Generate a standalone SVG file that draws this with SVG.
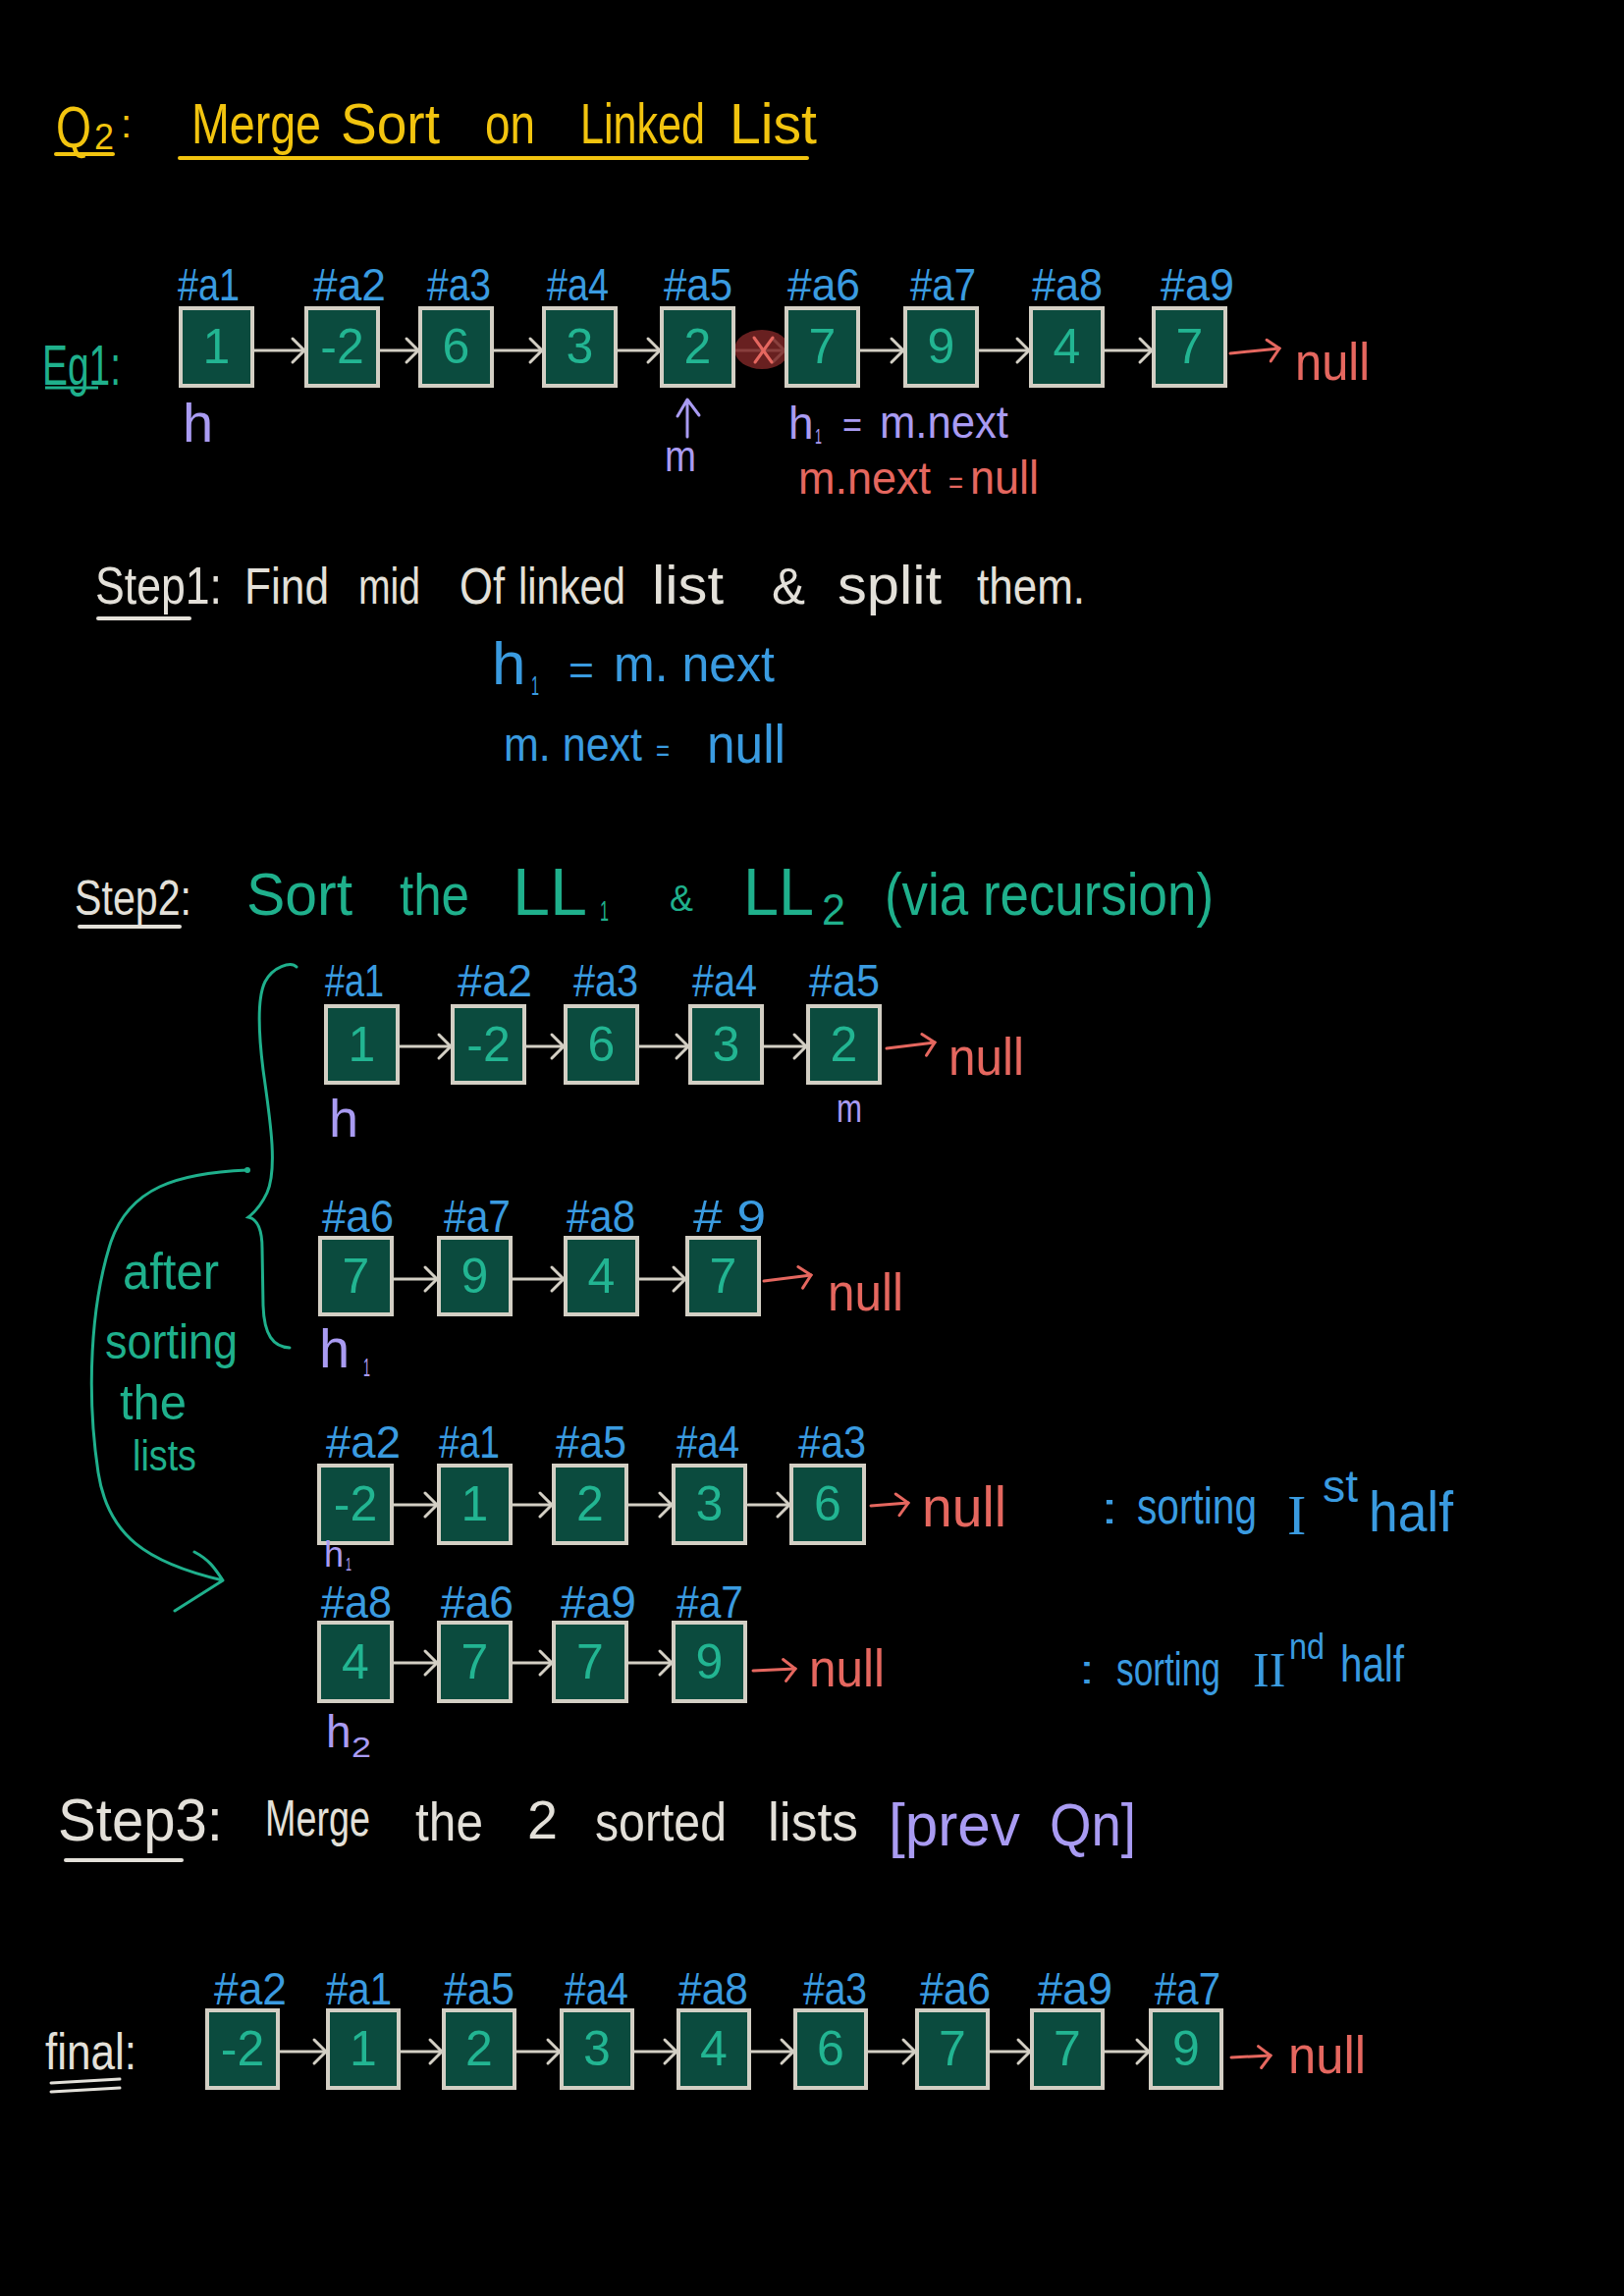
<svg xmlns="http://www.w3.org/2000/svg" width="1654" height="2339" viewBox="0 0 1654 2339">
<defs>
<style>
text{font-family:"Liberation Sans Narrow","Liberation Sans","DejaVu Sans",sans-serif;}
.serif{font-family:"Liberation Serif","DejaVu Serif",serif;}
.box{fill:#0b4b3e;stroke:#d3cfc4;stroke-width:4;}
.val{font-size:50px;fill:#22b592;text-anchor:middle;}
.lbl{font-size:46px;fill:#3a9be0;}
.ptr{fill:#a99bf2;}
.red{fill:#e5675f;}
.wht{fill:#e3e0d9;}
.teal{fill:#1fb08c;}
.yel{fill:#f2c40f;}
.blu{fill:#3a9be0;}
.ln{stroke:#d3cfc4;stroke-width:3;fill:none;stroke-linecap:round;marker-end:url(#ag);}
.lnr{stroke:#e5675f;stroke-width:3;fill:none;stroke-linecap:round;marker-end:url(#ar);}
.ul{stroke-width:4;stroke-linecap:round;fill:none;}
</style>
<marker id="ag" markerUnits="userSpaceOnUse" markerWidth="20" markerHeight="30" refX="15" refY="13" orient="auto" overflow="visible">
<path d="M3,1 Q9,7 15,13 Q9,19 3,25" fill="none" stroke="#d3cfc4" stroke-width="3" stroke-linecap="round"/>
</marker>
<marker id="ar" markerUnits="userSpaceOnUse" markerWidth="20" markerHeight="30" refX="15" refY="10" orient="auto" overflow="visible">
<path d="M3,0 L15,10 L5,22" fill="none" stroke="#e5675f" stroke-width="3" stroke-linecap="round"/>
</marker>
</defs>
<rect x="0" y="0" width="1654" height="2339" fill="#000"/>

<!-- Title -->
<g id="title">
<text class="yel" x="57" y="150" font-size="60" textLength="36" lengthAdjust="spacingAndGlyphs">Q</text>
<text class="yel" x="96" y="152" font-size="36" textLength="20" lengthAdjust="spacingAndGlyphs">2</text>
<text class="yel" x="123" y="140" font-size="40">:</text>
<line x1="57" y1="157" x2="115" y2="157" stroke="#f2c40f" class="ul"/>
<text class="yel" x="195" y="146" font-size="58" textLength="132" lengthAdjust="spacingAndGlyphs">Merge</text>
<text class="yel" x="347" y="146" font-size="58" textLength="101" lengthAdjust="spacingAndGlyphs">Sort</text>
<text class="yel" x="494" y="146" font-size="58" textLength="51" lengthAdjust="spacingAndGlyphs">on</text>
<text class="yel" x="591" y="146" font-size="58" textLength="127" lengthAdjust="spacingAndGlyphs">Linked</text>
<text class="yel" x="743" y="146" font-size="58" textLength="89" lengthAdjust="spacingAndGlyphs">List</text>
<line x1="183" y1="161" x2="822" y2="161" stroke="#f2c40f" class="ul"/>
</g>

<!-- Eg1 row -->
<g id="eg1-label">
<text class="teal" x="43" y="392" font-size="58" textLength="80" lengthAdjust="spacingAndGlyphs">Eg1:</text>
<line x1="46" y1="395" x2="100" y2="395" stroke="#1fb08c" stroke-width="3"/>
</g>

<g id="connectors-eg1">
<line class="ln" x1="259" y1="357" x2="310" y2="357"/>
<line class="ln" x1="387" y1="357" x2="426" y2="357"/>
<line class="ln" x1="503" y1="357" x2="552" y2="357"/>
<line class="ln" x1="629" y1="357" x2="672" y2="357"/>
<line class="ln" x1="749" y1="357" x2="799" y2="357"/>
<line class="ln" x1="876" y1="357" x2="920" y2="357"/>
<line class="ln" x1="997" y1="357" x2="1048" y2="357"/>
<line class="ln" x1="1125" y1="357" x2="1173" y2="357"/>
<line class="lnr" x1="1253" y1="360" x2="1303" y2="355"/>
</g>
<g id="cut-mark">
<ellipse cx="776" cy="356" rx="28" ry="20" fill="#7a2626" opacity="0.85"/>
<line x1="768" y1="344" x2="786" y2="369" stroke="#e5675f" stroke-width="3" stroke-linecap="round"/>
<line x1="787" y1="344" x2="769" y2="369" stroke="#e5675f" stroke-width="3" stroke-linecap="round"/>
</g>

<g id="e1"><rect class="box" x="184" y="314" width="73" height="79"/><text class="val" x="220.5" y="370">1</text><text class="lbl" x="181" y="306" textLength="63" lengthAdjust="spacingAndGlyphs">#a1</text></g>
<g id="e2"><rect class="box" x="312" y="314" width="73" height="79"/><text class="val" x="348.5" y="370">-2</text><text class="lbl" x="319" y="306" textLength="74" lengthAdjust="spacingAndGlyphs">#a2</text></g>
<g id="e3"><rect class="box" x="428" y="314" width="73" height="79"/><text class="val" x="464.5" y="370">6</text><text class="lbl" x="435" y="306" textLength="65" lengthAdjust="spacingAndGlyphs">#a3</text></g>
<g id="e4"><rect class="box" x="554" y="314" width="73" height="79"/><text class="val" x="590.5" y="370">3</text><text class="lbl" x="557" y="306" textLength="63" lengthAdjust="spacingAndGlyphs">#a4</text></g>
<g id="e5"><rect class="box" x="674" y="314" width="73" height="79"/><text class="val" x="710.5" y="370">2</text><text class="lbl" x="676" y="306" textLength="70" lengthAdjust="spacingAndGlyphs">#a5</text></g>
<g id="e6"><rect class="box" x="801" y="314" width="73" height="79"/><text class="val" x="837.5" y="370">7</text><text class="lbl" x="802" y="306" textLength="74" lengthAdjust="spacingAndGlyphs">#a6</text></g>
<g id="e7"><rect class="box" x="922" y="314" width="73" height="79"/><text class="val" x="958.5" y="370">9</text><text class="lbl" x="927" y="306" textLength="67" lengthAdjust="spacingAndGlyphs">#a7</text></g>
<g id="e8"><rect class="box" x="1050" y="314" width="73" height="79"/><text class="val" x="1086.5" y="370">4</text><text class="lbl" x="1051" y="306" textLength="72" lengthAdjust="spacingAndGlyphs">#a8</text></g>
<g id="e9"><rect class="box" x="1175" y="314" width="73" height="79"/><text class="val" x="1211.5" y="370">7</text><text class="lbl" x="1182" y="306" textLength="75" lengthAdjust="spacingAndGlyphs">#a9</text></g>
<g id="e-null"><text class="red" x="1319" y="387" font-size="54" textLength="76" lengthAdjust="spacingAndGlyphs">null</text></g>

<g id="e-pointers">
<text class="ptr" x="186" y="450" font-size="56">h</text>
<path d="M700 445 L700 409 M690 424 L700 407 L712 423" fill="none" stroke="#a99bf2" stroke-width="3" stroke-linecap="round" stroke-linejoin="round"/>
<text class="ptr" x="677" y="480" font-size="44" textLength="32" lengthAdjust="spacingAndGlyphs">m</text>
<text class="ptr" x="803" y="447" font-size="46">h</text>
<text class="ptr" x="830" y="452" font-size="22" textLength="7" lengthAdjust="spacingAndGlyphs">1</text>
<text class="ptr" x="858" y="445" font-size="36" textLength="20" lengthAdjust="spacingAndGlyphs">=</text>
<text class="ptr" x="896" y="446" font-size="46" textLength="131" lengthAdjust="spacingAndGlyphs">m.next</text>
<text class="red" x="813" y="503" font-size="46" textLength="135" lengthAdjust="spacingAndGlyphs">m.next</text>
<text class="red" x="966" y="502" font-size="32" textLength="15" lengthAdjust="spacingAndGlyphs">=</text>
<text class="red" x="988" y="503" font-size="48" textLength="70" lengthAdjust="spacingAndGlyphs">null</text>
</g>

<!-- Step 1 -->
<g id="step1">
<text class="wht" x="97" y="615" font-size="54" textLength="129" lengthAdjust="spacingAndGlyphs">Step1:</text>
<line x1="100" y1="630" x2="193" y2="630" stroke="#e3e0d9" class="ul"/>
<text class="wht" x="249" y="615" font-size="52" textLength="86" lengthAdjust="spacingAndGlyphs">Find</text>
<text class="wht" x="365" y="615" font-size="52" textLength="63" lengthAdjust="spacingAndGlyphs">mid</text>
<text class="wht" x="468" y="615" font-size="52" textLength="46" lengthAdjust="spacingAndGlyphs">Of</text>
<text class="wht" x="528" y="615" font-size="52" textLength="109" lengthAdjust="spacingAndGlyphs">linked</text>
<text class="wht" x="664" y="615" font-size="56" textLength="73" lengthAdjust="spacingAndGlyphs">list</text>
<text class="wht" x="786" y="615" font-size="52" textLength="34" lengthAdjust="spacingAndGlyphs">&amp;</text>
<text class="wht" x="853" y="615" font-size="56" textLength="106" lengthAdjust="spacingAndGlyphs">split</text>
<text class="wht" x="995" y="615" font-size="52" textLength="110" lengthAdjust="spacingAndGlyphs">them.</text>
<text class="blu" x="501" y="697" font-size="62">h</text>
<text class="blu" x="541" y="708" font-size="28" textLength="8" lengthAdjust="spacingAndGlyphs">1</text>
<text class="blu" x="579" y="697" font-size="42" textLength="26" lengthAdjust="spacingAndGlyphs">=</text>
<text class="blu" x="625" y="694" font-size="52" textLength="164" lengthAdjust="spacingAndGlyphs">m. next</text>
<text class="blu" x="513" y="775" font-size="48" textLength="141" lengthAdjust="spacingAndGlyphs">m. next</text>
<text class="blu" x="668" y="775" font-size="32" textLength="14" lengthAdjust="spacingAndGlyphs">=</text>
<text class="blu" x="720" y="777" font-size="56" textLength="80" lengthAdjust="spacingAndGlyphs">null</text>
</g>

<!-- Step 2 -->
<g id="step2">
<text class="wht" x="76" y="932" font-size="50" textLength="119" lengthAdjust="spacingAndGlyphs">Step2:</text>
<line x1="81" y1="944" x2="183" y2="944" stroke="#e3e0d9" class="ul"/>
<text class="teal" x="251" y="932" font-size="62" textLength="108" lengthAdjust="spacingAndGlyphs">Sort</text>
<text class="teal" x="407" y="932" font-size="60" textLength="71" lengthAdjust="spacingAndGlyphs">the</text>
<text class="teal" x="522" y="932" font-size="68" textLength="76" lengthAdjust="spacingAndGlyphs">LL</text>
<text class="teal" x="611" y="938" font-size="30" textLength="9" lengthAdjust="spacingAndGlyphs">1</text>
<text class="teal" x="682" y="928" font-size="36" textLength="24" lengthAdjust="spacingAndGlyphs">&amp;</text>
<text class="teal" x="757" y="932" font-size="68" textLength="72" lengthAdjust="spacingAndGlyphs">LL</text>
<text class="teal" x="837" y="942" font-size="44" textLength="24" lengthAdjust="spacingAndGlyphs">2</text>
<text class="teal" x="901" y="932" font-size="62" textLength="335" lengthAdjust="spacingAndGlyphs">(via recursion)</text>
</g>

<g id="brace">
<path d="M302 985 C296 979 278 985 270 1000 C262 1016 263 1050 268 1090 C275 1140 283 1190 272 1215 C266 1228 258 1236 253 1240 C262 1242 267 1252 267 1272 L268 1330 C269 1360 278 1372 295 1373" fill="none" stroke="#1fb08c" stroke-width="3" stroke-linecap="round"/>
</g>
<g id="after-sorting">
<circle cx="252" cy="1192" r="3" fill="#1fb08c"/>
<path d="M252 1192 C180 1195 132 1210 113 1265 C92 1330 88 1420 100 1500 C110 1565 150 1592 227 1610 M198 1581 C215 1590 220 1600 227 1610 L178 1641" fill="none" stroke="#1fb08c" stroke-width="3" stroke-linecap="round" stroke-linejoin="round"/>
<text class="teal" x="125" y="1313" font-size="52" textLength="98" lengthAdjust="spacingAndGlyphs">after</text>
<text class="teal" x="107" y="1384" font-size="50" textLength="135" lengthAdjust="spacingAndGlyphs">sorting</text>
<text class="teal" x="122" y="1446" font-size="50" textLength="68" lengthAdjust="spacingAndGlyphs">the</text>
<text class="teal" x="135" y="1498" font-size="44" textLength="65" lengthAdjust="spacingAndGlyphs">lists</text>
</g>

<!-- connectors for step 2 lists -->
<g id="connectors">
<line class="ln" x1="407" y1="1066" x2="459" y2="1066"/>
<line class="ln" x1="536" y1="1066" x2="574" y2="1066"/>
<line class="ln" x1="651" y1="1066" x2="701" y2="1066"/>
<line class="ln" x1="777" y1="1066" x2="821" y2="1066"/>
<line class="lnr" x1="903" y1="1068" x2="952" y2="1062"/>

<line class="ln" x1="401" y1="1303" x2="445" y2="1303"/>
<line class="ln" x1="522" y1="1303" x2="574" y2="1303"/>
<line class="ln" x1="651" y1="1303" x2="698" y2="1303"/>
<line class="lnr" x1="778" y1="1305" x2="826" y2="1299"/>

<line class="ln" x1="401" y1="1533" x2="445" y2="1533"/>
<line class="ln" x1="522" y1="1533" x2="562" y2="1533"/>
<line class="ln" x1="640" y1="1533" x2="684" y2="1533"/>
<line class="ln" x1="762" y1="1533" x2="804" y2="1533"/>
<line class="lnr" x1="887" y1="1534" x2="925" y2="1531"/>

<line class="ln" x1="401" y1="1694" x2="445" y2="1694"/>
<line class="ln" x1="522" y1="1694" x2="562" y2="1694"/>
<line class="ln" x1="640" y1="1694" x2="684" y2="1694"/>
<line class="lnr" x1="767" y1="1702" x2="810" y2="1700"/>

<line class="ln" x1="285" y1="2090" x2="332" y2="2090"/>
<line class="ln" x1="407" y1="2090" x2="450" y2="2090"/>
<line class="ln" x1="525" y1="2090" x2="570" y2="2090"/>
<line class="ln" x1="646" y1="2090" x2="689" y2="2090"/>
<line class="ln" x1="765" y1="2090" x2="808" y2="2090"/>
<line class="ln" x1="884" y1="2090" x2="932" y2="2090"/>
<line class="ln" x1="1008" y1="2090" x2="1049" y2="2090"/>
<line class="ln" x1="1125" y1="2090" x2="1170" y2="2090"/>
<line class="lnr" x1="1254" y1="2096" x2="1294" y2="2094"/>
</g>

<!-- List A -->
<g id="a1"><rect class="box" x="332" y="1025" width="73" height="78"/><text class="val" x="368.5" y="1081">1</text><text class="lbl" x="331" y="1015" textLength="60" lengthAdjust="spacingAndGlyphs">#a1</text></g>
<g id="a2"><rect class="box" x="461" y="1025" width="73" height="78"/><text class="val" x="497.5" y="1081">-2</text><text class="lbl" x="466" y="1015" textLength="76" lengthAdjust="spacingAndGlyphs">#a2</text></g>
<g id="a3"><rect class="box" x="576" y="1025" width="73" height="78"/><text class="val" x="612.5" y="1081">6</text><text class="lbl" x="584" y="1015" textLength="66" lengthAdjust="spacingAndGlyphs">#a3</text></g>
<g id="a4"><rect class="box" x="703" y="1025" width="73" height="78"/><text class="val" x="739.5" y="1081">3</text><text class="lbl" x="705" y="1015" textLength="66" lengthAdjust="spacingAndGlyphs">#a4</text></g>
<g id="a5"><rect class="box" x="823" y="1025" width="73" height="78"/><text class="val" x="859.5" y="1081">2</text><text class="lbl" x="824" y="1015" textLength="72" lengthAdjust="spacingAndGlyphs">#a5</text></g>
<g id="a-null"><text class="red" x="966" y="1095" font-size="54" textLength="77" lengthAdjust="spacingAndGlyphs">null</text></g>
<g id="a-ptrs">
<text class="ptr" x="335" y="1158" font-size="54">h</text>
<text class="ptr" x="852" y="1143" font-size="40" textLength="26" lengthAdjust="spacingAndGlyphs">m</text>
</g>

<!-- List B -->
<g id="b1"><rect class="box" x="326" y="1261" width="73" height="78"/><text class="val" x="362.5" y="1317">7</text><text class="lbl" x="328" y="1255" textLength="73" lengthAdjust="spacingAndGlyphs">#a6</text></g>
<g id="b2"><rect class="box" x="447" y="1261" width="73" height="78"/><text class="val" x="483.5" y="1317">9</text><text class="lbl" x="452" y="1255" textLength="68" lengthAdjust="spacingAndGlyphs">#a7</text></g>
<g id="b3"><rect class="box" x="576" y="1261" width="73" height="78"/><text class="val" x="612.5" y="1317">4</text><text class="lbl" x="577" y="1255" textLength="70" lengthAdjust="spacingAndGlyphs">#a8</text></g>
<g id="b4"><rect class="box" x="700" y="1261" width="73" height="78"/><text class="val" x="736.5" y="1317">7</text><text class="lbl" x="706" y="1255" textLength="74" lengthAdjust="spacingAndGlyphs"># 9</text></g>
<g id="b-null"><text class="red" x="843" y="1335" font-size="54" textLength="77" lengthAdjust="spacingAndGlyphs">null</text></g>
<g id="b-ptrs">
<text class="ptr" x="325" y="1393" font-size="56">h</text>
<text class="ptr" x="370" y="1402" font-size="26" textLength="7" lengthAdjust="spacingAndGlyphs">1</text>
</g>

<!-- List C (sorted first half) -->
<g id="c1"><rect class="box" x="325" y="1493" width="74" height="79"/><text class="val" x="362" y="1549">-2</text><text class="lbl" x="332" y="1485" textLength="76" lengthAdjust="spacingAndGlyphs">#a2</text></g>
<g id="c2"><rect class="box" x="447" y="1493" width="73" height="79"/><text class="val" x="483.5" y="1549">1</text><text class="lbl" x="447" y="1485" textLength="62" lengthAdjust="spacingAndGlyphs">#a1</text></g>
<g id="c3"><rect class="box" x="564" y="1493" width="74" height="79"/><text class="val" x="601" y="1549">2</text><text class="lbl" x="566" y="1485" textLength="72" lengthAdjust="spacingAndGlyphs">#a5</text></g>
<g id="c4"><rect class="box" x="686" y="1493" width="73" height="79"/><text class="val" x="722.5" y="1549">3</text><text class="lbl" x="689" y="1485" textLength="64" lengthAdjust="spacingAndGlyphs">#a4</text></g>
<g id="c5"><rect class="box" x="806" y="1493" width="74" height="79"/><text class="val" x="843" y="1549">6</text><text class="lbl" x="813" y="1485" textLength="69" lengthAdjust="spacingAndGlyphs">#a3</text></g>
<g id="c-null"><text class="red" x="939" y="1555" font-size="58" textLength="86" lengthAdjust="spacingAndGlyphs">null</text></g>
<g id="c-ptrs">
<text class="ptr" x="330" y="1596" font-size="36">h</text>
<text class="ptr" x="352" y="1600" font-size="18" textLength="6" lengthAdjust="spacingAndGlyphs">1</text>
</g>
<g id="c-note">
<text class="blu" x="1121" y="1552" font-size="44" textLength="18" lengthAdjust="spacingAndGlyphs">:</text>
<text class="blu" x="1158" y="1552" font-size="52" textLength="122" lengthAdjust="spacingAndGlyphs">sorting</text>
<text class="blu serif" x="1311" y="1563" font-size="58">I</text>
<text class="blu" x="1347" y="1530" font-size="46" textLength="36" lengthAdjust="spacingAndGlyphs">st</text>
<text class="blu" x="1394" y="1560" font-size="58" textLength="86" lengthAdjust="spacingAndGlyphs">half</text>
</g>

<!-- List D (sorted second half) -->
<g id="d1"><rect class="box" x="325" y="1653" width="74" height="80"/><text class="val" x="362" y="1710">4</text><text class="lbl" x="327" y="1648" textLength="72" lengthAdjust="spacingAndGlyphs">#a8</text></g>
<g id="d2"><rect class="box" x="447" y="1653" width="73" height="80"/><text class="val" x="483.5" y="1710">7</text><text class="lbl" x="449" y="1648" textLength="74" lengthAdjust="spacingAndGlyphs">#a6</text></g>
<g id="d3"><rect class="box" x="564" y="1653" width="74" height="80"/><text class="val" x="601" y="1710">7</text><text class="lbl" x="571" y="1648" textLength="77" lengthAdjust="spacingAndGlyphs">#a9</text></g>
<g id="d4"><rect class="box" x="686" y="1653" width="73" height="80"/><text class="val" x="722.5" y="1710">9</text><text class="lbl" x="689" y="1648" textLength="68" lengthAdjust="spacingAndGlyphs">#a7</text></g>
<g id="d-null"><text class="red" x="824" y="1718" font-size="54" textLength="77" lengthAdjust="spacingAndGlyphs">null</text></g>
<g id="d-ptrs">
<text class="ptr" x="332" y="1780" font-size="46">h</text>
<text class="ptr" x="358" y="1790" font-size="30" textLength="20" lengthAdjust="spacingAndGlyphs">2</text>
</g>
<g id="d-note">
<text class="blu" x="1099" y="1715" font-size="40" textLength="16" lengthAdjust="spacingAndGlyphs">:</text>
<text class="blu" x="1137" y="1717" font-size="48" textLength="106" lengthAdjust="spacingAndGlyphs">sorting</text>
<text class="blu serif" x="1276" y="1718" font-size="50">II</text>
<text class="blu" x="1313" y="1690" font-size="36" textLength="36" lengthAdjust="spacingAndGlyphs">nd</text>
<text class="blu" x="1365" y="1713" font-size="52" textLength="65" lengthAdjust="spacingAndGlyphs">half</text>
</g>

<!-- Step 3 -->
<g id="step3">
<text class="wht" x="59" y="1875" font-size="62" textLength="168" lengthAdjust="spacingAndGlyphs">Step3:</text>
<line x1="67" y1="1895" x2="185" y2="1895" stroke="#e3e0d9" class="ul"/>
<text class="wht" x="270" y="1870" font-size="52" textLength="107" lengthAdjust="spacingAndGlyphs">Merge</text>
<text class="wht" x="423" y="1875" font-size="56" textLength="69" lengthAdjust="spacingAndGlyphs">the</text>
<text class="wht" x="537" y="1873" font-size="56" textLength="31" lengthAdjust="spacingAndGlyphs">2</text>
<text class="wht" x="606" y="1875" font-size="56" textLength="134" lengthAdjust="spacingAndGlyphs">sorted</text>
<text class="wht" x="782" y="1875" font-size="56" textLength="92" lengthAdjust="spacingAndGlyphs">lists</text>
<text class="ptr" x="905" y="1880" font-size="62" textLength="134" lengthAdjust="spacingAndGlyphs">[prev</text>
<text class="ptr" x="1069" y="1880" font-size="62" textLength="88" lengthAdjust="spacingAndGlyphs">Qn]</text>
</g>

<!-- Final -->
<g id="final-label">
<text class="wht" x="46" y="2108" font-size="52" textLength="93" lengthAdjust="spacingAndGlyphs">final:</text>
<line x1="52" y1="2122" x2="122" y2="2118" stroke="#e3e0d9" stroke-width="3" stroke-linecap="round"/>
<line x1="52" y1="2131" x2="122" y2="2127" stroke="#e3e0d9" stroke-width="3" stroke-linecap="round"/>
</g>
<g id="f1"><rect class="box" x="211" y="2048" width="72" height="79"/><text class="val" x="247" y="2104">-2</text><text class="lbl" x="218" y="2042" textLength="74" lengthAdjust="spacingAndGlyphs">#a2</text></g>
<g id="f2"><rect class="box" x="334" y="2048" width="72" height="79"/><text class="val" x="370" y="2104">1</text><text class="lbl" x="332" y="2042" textLength="67" lengthAdjust="spacingAndGlyphs">#a1</text></g>
<g id="f3"><rect class="box" x="452" y="2048" width="72" height="79"/><text class="val" x="488" y="2104">2</text><text class="lbl" x="452" y="2042" textLength="72" lengthAdjust="spacingAndGlyphs">#a5</text></g>
<g id="f4"><rect class="box" x="572" y="2048" width="72" height="79"/><text class="val" x="608" y="2104">3</text><text class="lbl" x="575" y="2042" textLength="65" lengthAdjust="spacingAndGlyphs">#a4</text></g>
<g id="f5"><rect class="box" x="691" y="2048" width="72" height="79"/><text class="val" x="727" y="2104">4</text><text class="lbl" x="691" y="2042" textLength="71" lengthAdjust="spacingAndGlyphs">#a8</text></g>
<g id="f6"><rect class="box" x="810" y="2048" width="72" height="79"/><text class="val" x="846" y="2104">6</text><text class="lbl" x="818" y="2042" textLength="65" lengthAdjust="spacingAndGlyphs">#a3</text></g>
<g id="f7"><rect class="box" x="934" y="2048" width="72" height="79"/><text class="val" x="970" y="2104">7</text><text class="lbl" x="937" y="2042" textLength="72" lengthAdjust="spacingAndGlyphs">#a6</text></g>
<g id="f8"><rect class="box" x="1051" y="2048" width="72" height="79"/><text class="val" x="1087" y="2104">7</text><text class="lbl" x="1057" y="2042" textLength="76" lengthAdjust="spacingAndGlyphs">#a9</text></g>
<g id="f9"><rect class="box" x="1172" y="2048" width="72" height="79"/><text class="val" x="1208" y="2104">9</text><text class="lbl" x="1176" y="2042" textLength="67" lengthAdjust="spacingAndGlyphs">#a7</text></g>
<g id="f-null"><text class="red" x="1312" y="2112" font-size="54" textLength="79" lengthAdjust="spacingAndGlyphs">null</text></g>
</svg>
